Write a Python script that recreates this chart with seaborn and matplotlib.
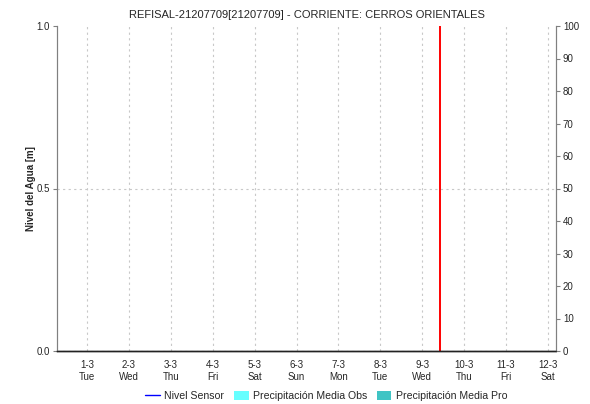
import pandas as pd
import matplotlib
matplotlib.use("Agg")
import matplotlib.pyplot as plt
from matplotlib.lines import Line2D
from matplotlib.patches import Patch
import seaborn as sns

# data
title = "REFISAL-21207709[21207709] - CORRIENTE: CERROS ORIENTALES"
tick_days = pd.date_range("2022-03-01", "2022-03-12", freq="D")
tick_labels = ["1-3\nTue", "2-3\nWed", "3-3\nThu", "4-3\nFri", "5-3\nSat", "6-3\nSun",
               "7-3\nMon", "8-3\nTue", "9-3\nWed", "10-3\nThu", "11-3\nFri", "12-3\nSat"]
x_start = pd.Timestamp("2022-02-28 06:50")
x_end = pd.Timestamp("2022-03-12 04:35")
now_time = pd.Timestamp("2022-03-09 10:20")
nivel_time = []
nivel_values = []
precip_obs = []
precip_pro = []

sns.set_style("white")
plt.rcParams["font.family"] = ["Liberation Sans", "DejaVu Sans"]
plt.rcParams["font.size"] = 7

fig = plt.figure(figsize=(5.9, 4.04), dpi=100)
ax = fig.add_axes([57 / 590, 1 - 351 / 404, 499 / 590, 325 / 404])
ax2 = ax.twinx()

# nivel sensor (no data in this window)
ax.plot(pd.to_datetime(nivel_time), nivel_values, color="blue", lw=1)

# current time marker
now_df = pd.DataFrame({"t": [now_time, now_time], "y": [0, 1]})
sns.lineplot(data=now_df, x="t", y="y", estimator=None, sort=False,
             color="red", lw=1.4, ax=ax, legend=False)

ax.set_xlim(x_start, x_end)
ax.set_ylim(0, 1)
ax2.set_ylim(0, 100)
ax.set_xticks(tick_days)
ax.set_xticklabels(tick_labels)
ax.set_yticks([0, 0.5, 1.0])
ax.set_yticklabels(["0.0", "0.5", "1.0"])
ax2.set_yticks(range(0, 101, 10))

ax.grid(True, color="#c8c8c8", linestyle=(0, (2, 3)), lw=0.8)
ax.yaxis.get_gridlines()[2].set_visible(False)
ax.set_axisbelow(True)
for a in (ax, ax2):
    a.spines["top"].set_visible(False)
    a.spines["left"].set_color("#808080")
    a.spines["right"].set_color("#808080")
    a.spines["bottom"].set_color("#222222")
    a.spines["bottom"].set_linestyle((0, (1, 1)))
    a.spines["bottom"].set_linewidth(1.0)
ax.tick_params(axis="y", left=True, length=3, width=0.8, color="#808080", labelsize=7, pad=2)
ax.tick_params(axis="x", bottom=False, labelsize=7, pad=3)
ax2.tick_params(axis="y", right=True, length=3, width=0.8, color="#808080", labelsize=7, pad=2)

ax.set_xlabel("")
ax.set_ylabel("Nivel del Agua [m]", fontsize=7, fontweight="bold")
ax.yaxis.set_label_coords(-0.042, 0.5)
ax2.set_ylabel("Precipitación [mm]", fontsize=7)
ax2.yaxis.set_label_coords(1.092, 0.5)
ax.set_title(title, fontsize=8, pad=6)

handles = [Line2D([], [], color="blue", lw=1),
           Patch(facecolor="#66ffff", edgecolor="none"),
           Patch(facecolor="#40c4c4", edgecolor="none")]
fig.legend(handles, ["Nivel Sensor", "Precipitación Media Obs", "Precipitación Media Pro"],
           loc="center", bbox_to_anchor=(0.553, 1 - 396 / 404), ncol=3, frameon=False,
           fontsize=7.6, handlelength=1.4, handleheight=1.0, handletextpad=0.4,
           columnspacing=0.9)

fig.savefig("out.png", dpi=100)
